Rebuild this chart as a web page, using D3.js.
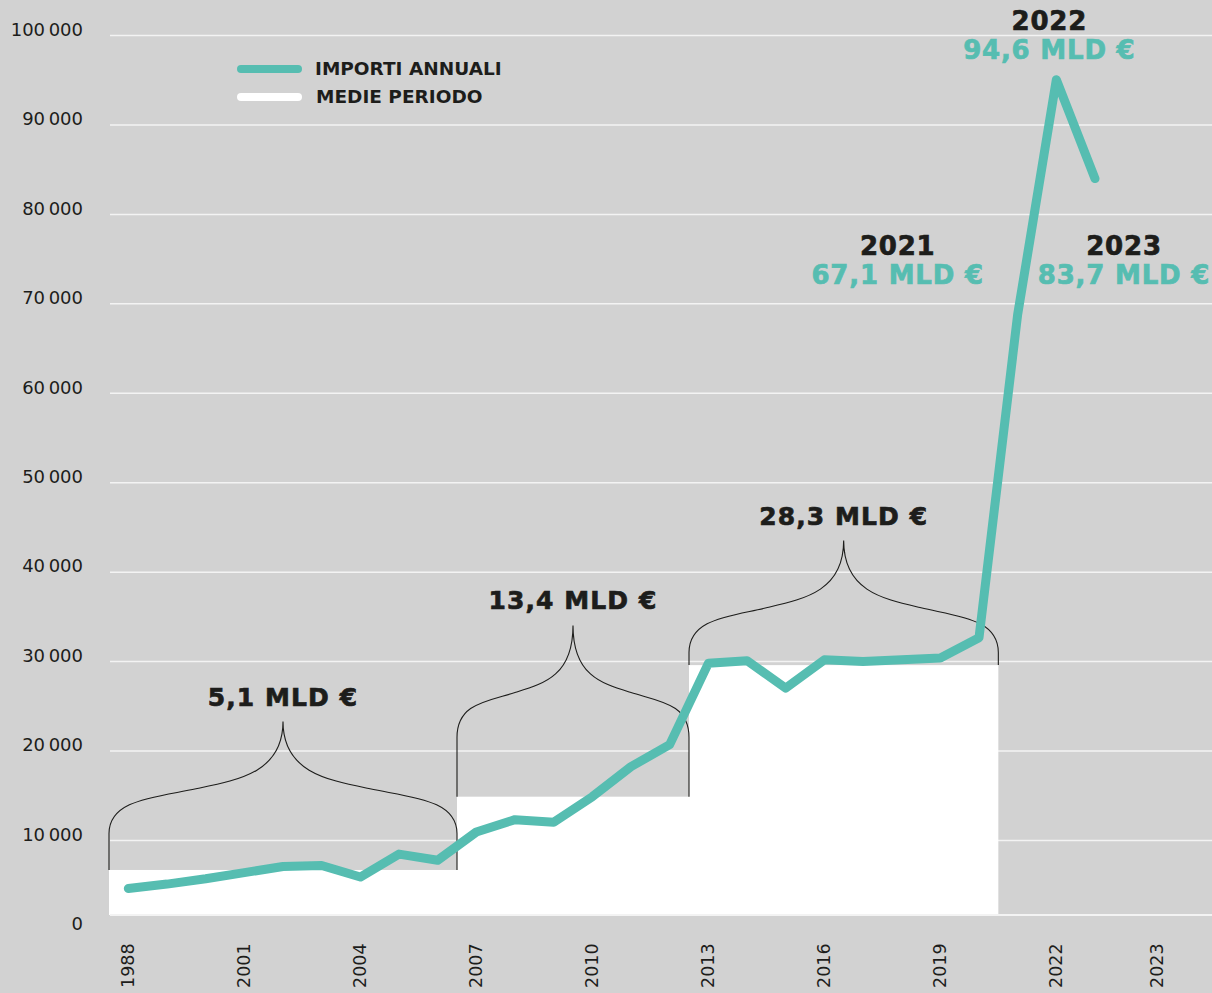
<!DOCTYPE html>
<html>
<head>
<meta charset="utf-8">
<script src="https://cdn.jsdelivr.net/npm/d3@7"></script>
<style>
  body { margin: 0; background: #d2d2d2; }
  svg { display: block; }
</style>
</head>
<body>
<div id="canvas"></div>
<script>
// annual amounts (million €)
var years = [1998, 1999, 2000, 2001, 2002, 2003, 2004, 2005, 2006, 2007, 2008, 2009, 2010,
  2011, 2012, 2013, 2014, 2015, 2016, 2017, 2018, 2019, 2020, 2021, 2022, 2023];
var amounts = [3000, 3500, 4100, 4800, 5500, 5600, 4300, 6900, 6200, 9400, 10800, 10500, 13400,
  16800, 19300, 28500, 28800, 25700, 28900, 28700, 28900, 29100, 31400, 68000, 94600, 83400];

// period averages
var periodStart = [1998, 2007, 2013];
var periodEnd = [2006, 2012, 2020];
var periodAvg = [5100, 13400, 28300];
var periodLabels = ["5,1 MLD €", "13,4 MLD €", "28,3 MLD €"];

// highlighted years
var calloutYears = [2021, 2022, 2023];
var calloutValues = ["67,1 MLD €", "94,6 MLD €", "83,7 MLD €"];

// axes
var yTicks = [0, 10000, 20000, 30000, 40000, 50000, 60000, 70000, 80000, 90000, 100000];
var xTickLabels = ["1988", "2001", "2004", "2007", "2010", "2013", "2016", "2019", "2022", "2023"];
var xTickYears = [1998, 2001, 2004, 2007, 2010, 2013, 2016, 2019, 2022, 2024.6]; // last label sits at the far right in the source

// layout
var width = 1212, height = 993;
var teal = "#56bdb1", ink = "#1d1d1b";
var braceTip = [21900, 32800, 42400];          // brace tip level, in data units
var calloutDx = [-120, -7, 29], calloutDy = [-60, -50, 76];

var svg = d3.select("#canvas").append("svg")
  .attr("width", width)
  .attr("height", height)
  .style("font-family", "'DejaVu Sans', sans-serif");

var x = d3.scaleLinear().domain([1997.5, 2024.5]).range([109, 1153]);
var y = d3.scaleLinear().domain([0, 100000]).range([915, 32]);
// the printed grid has its own, slightly lower baseline
var yGrid = d3.scaleLinear().domain([0, 100000]).range([929.4, 35]);

// grid lines + labels
svg.append("g")
  .attr("transform", "translate(110,0)")
  .call(d3.axisLeft(yGrid).tickValues(yTicks.slice(1)).tickSize(-(width - 110)).tickFormat(""))
  .call(g => g.select(".domain").remove())
  .call(g => g.selectAll("line").attr("stroke", "#f3f3f3").attr("stroke-width", 1.5));

svg.append("g").selectAll("text")
  .data(yTicks)
  .enter()
  .append("text")
  .attr("x", 83)
  .attr("y", d => yGrid(d) - 5.5)
  .attr("dy", "0.35em")
  .attr("text-anchor", "end")
  .attr("font-size", 18)
  .attr("fill", ink)
  .text(d => d3.format(",")(d).replace(",", "\u2009"));

// period averages (white blocks)
var periods = periodAvg.map((v, i) => ({ from: periodStart[i], to: periodEnd[i], avg: v, label: periodLabels[i], tip: braceTip[i] }));

svg.append("g").selectAll("rect")
  .data(periods)
  .enter()
  .append("rect")
  .attr("x", d => x(d.from - 0.5))
  .attr("y", d => y(d.avg))
  .attr("width", d => x(d.to + 0.5) - x(d.from - 0.5))
  .attr("height", d => y(0) - y(d.avg))
  .attr("fill", "#fff");

svg.append("line")
  .attr("x1", 110).attr("x2", width)
  .attr("y1", y(0)).attr("y2", y(0))
  .attr("stroke", "#f3f3f3")
  .attr("stroke-width", 2);

// curly braces over each period
function bracePath(x0, x1, yb, tipY) {
  var h = 112, ys = tipY + h, xm = (x0 + x1) / 2, w = xm - x0;
  var ql = x0 + w / 2, qr = xm + w / 2, yq = ys - 0.4 * h;
  var a = 0.3 * h, b = 0.25 * w, c = 0.08 * h;
  var path = d3.path();
  path.moveTo(x0, yb);
  path.lineTo(x0, ys);
  path.bezierCurveTo(x0, ys - a, ql - b, yq + c, ql, yq);
  path.bezierCurveTo(ql + b, yq - c, xm, tipY + 0.45 * h, xm, tipY);
  path.bezierCurveTo(xm, tipY + 0.45 * h, qr - b, yq - c, qr, yq);
  path.bezierCurveTo(qr + b, yq + c, x1, ys - a, x1, ys);
  path.lineTo(x1, yb);
  return path.toString();
}

svg.append("g").selectAll("path")
  .data(periods)
  .enter()
  .append("path")
  .attr("d", d => bracePath(x(d.from - 0.5), x(d.to + 0.5), y(d.avg), y(d.tip)))
  .attr("fill", "none")
  .attr("stroke", ink)
  .attr("stroke-width", 1.1);

svg.append("g").selectAll("text")
  .data(periods)
  .enter()
  .append("text")
  .attr("x", d => (x(d.from - 0.5) + x(d.to + 0.5)) / 2)
  .attr("y", d => y(d.tip) - 16)
  .attr("text-anchor", "middle")
  .attr("font-size", 25)
  .attr("font-weight", "bold")
  .attr("letter-spacing", 1.1)
  .attr("stroke", ink)
  .attr("stroke-width", 0.7)
  .attr("fill", ink)
  .text(d => d.label);

// annual line
var series = years.map((yr, i) => ({ year: yr, value: amounts[i] }));

svg.append("path")
  .datum(series)
  .attr("d", d3.line().x(d => x(d.year)).y(d => y(d.value)))
  .attr("fill", "none")
  .attr("stroke", teal)
  .attr("stroke-width", 9)
  .attr("stroke-linecap", "round")
  .attr("stroke-linejoin", "round");

// callouts for the last three years
var callouts = calloutYears.map((yr, i) => {
  var v = amounts[years.indexOf(yr)];
  return { year: yr, text: calloutValues[i], cx: x(yr) + calloutDx[i], cy: y(v) + calloutDy[i] };
});

var cg = svg.append("g").selectAll("g")
  .data(callouts)
  .enter()
  .append("g")
  .attr("text-anchor", "middle")
  .attr("font-weight", "bold")
  .attr("letter-spacing", 0.8)
  .attr("stroke-width", 0.7)
  .attr("font-size", 26);

cg.append("text")
  .attr("x", d => d.cx)
  .attr("y", d => d.cy)
  .attr("fill", ink)
  .attr("stroke", ink)
  .text(d => d.year);

cg.append("text")
  .attr("x", d => d.cx)
  .attr("y", d => d.cy + 29)
  .attr("fill", teal)
  .attr("stroke", teal)
  .text(d => d.text);

// x labels (vertical)
svg.append("g").selectAll("text")
  .data(xTickLabels)
  .enter()
  .append("text")
  .attr("transform", (d, i) => "translate(" + x(xTickYears[i]) + ",988) rotate(-90)")
  .attr("dy", "0.35em")
  .attr("font-size", 17.5)
  .attr("fill", ink)
  .text(d => d);

// legend
var legend = svg.append("g");
legend.append("line")
  .attr("x1", 241).attr("x2", 298).attr("y1", 69).attr("y2", 69)
  .attr("stroke", teal).attr("stroke-width", 8).attr("stroke-linecap", "round");
legend.append("line")
  .attr("x1", 241).attr("x2", 298).attr("y1", 97).attr("y2", 97)
  .attr("stroke", "#fff").attr("stroke-width", 8).attr("stroke-linecap", "round");
legend.append("text")
  .attr("x", 315).attr("y", 75)
  .attr("font-size", 18.5).attr("font-weight", "bold").attr("fill", ink)
  .text("IMPORTI ANNUALI");
legend.append("text")
  .attr("x", 316).attr("y", 103)
  .attr("font-size", 18.5).attr("font-weight", "bold").attr("fill", ink)
  .text("MEDIE PERIODO");
</script>
</body>
</html>
